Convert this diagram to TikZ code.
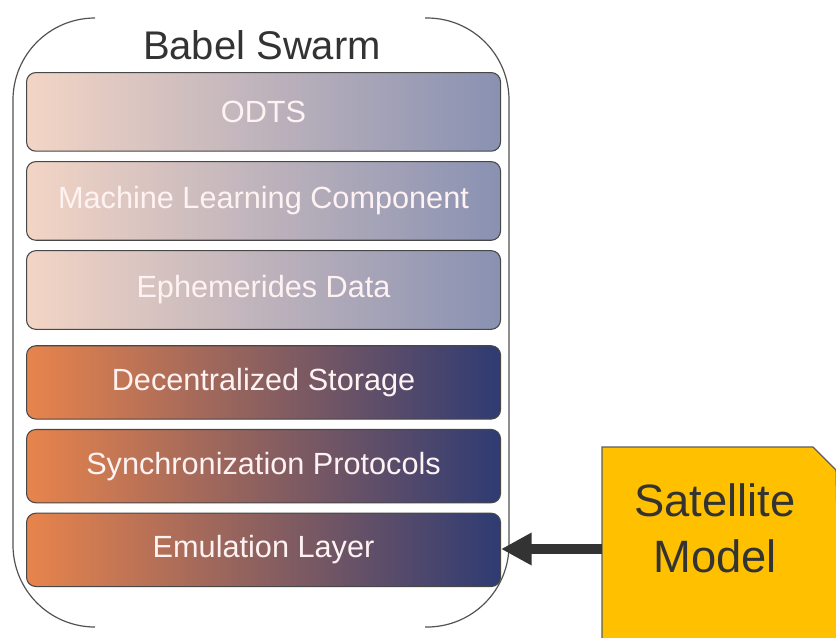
\documentclass[tikz,border=0pt]{standalone}
\usepackage{fontspec}
\setmainfont{Liberation Sans}
\usetikzlibrary{positioning,arrows.meta}

\definecolor{peach}{HTML}{F3D5C5}
\definecolor{rosy}{HTML}{C7A2AC}
\definecolor{slate}{HTML}{8991B2}
\definecolor{burnt}{HTML}{E8844C}
\definecolor{plum}{HTML}{96566A}
\definecolor{navy}{HTML}{2E3B73}
\definecolor{gold}{HTML}{FFC000}
\definecolor{ink}{HTML}{333333}

\begin{document}
\begin{tikzpicture}[x=0.75pt, y=-0.75pt, node distance=7pt, >=Triangle,
    layer/.style={draw=ink!90, line width=0.8pt, rectangle, rounded corners=7pt,
      minimum width=355.5pt, text=white!95!red, font=\fontsize{23}{27}\selectfont},
    lightlayer/.style={layer, minimum height=59pt, left color=peach, middle color=rosy, right color=slate},
    darklayer/.style={layer, minimum height=55pt, left color=burnt, middle color=plum, right color=navy}]

  \clip (0,0) rectangle (836,637);

  % Contenedor (solo las esquinas redondeadas y los lados)
  \draw[ink!85, line width=0.9pt, rounded corners=61.5pt] (95,18) -- (13,18) -- (13,627) -- (95,627);
  \draw[ink!85, line width=0.9pt, rounded corners=61.5pt] (425,18) -- (509,18) -- (509,627) -- (425,627);
  \node[text=ink, font=\fontsize{30}{34}\selectfont] (title) at (262,45) {Babel Swarm};

  % Capas (de arriba hacia abajo)
  \node[lightlayer, anchor=north west] (odts) at (26,72) {ODTS};
  \node[lightlayer, below=of odts] (ml) {Machine Learning Component};
  \node[lightlayer, below=of ml] (eph) {Ephemerides Data};
  \node[darklayer, below=11.5pt of eph] (storage) {Decentralized Storage};
  \node[darklayer, below=of storage] (sync) {Synchronization Protocols};
  \node[darklayer, below=of sync] (emu) {Emulation Layer};

  % Modelo del satelite (esquina cortada, sale del borde)
  \draw[ink!80, line width=0.8pt, fill=gold] (602,447) -- (813,447) -- (836,470) -- (840,700) -- (602,700) -- cycle;
  \node[text=ink, align=center, font=\fontsize{34}{42}\selectfont] (sat) at (715,528) {Satellite\\Model};
  \coordinate (satedge) at (602,549);

  % Conexion
  \draw[->, ink, line width=7.5pt, arrows={-Triangle[length=23pt, width=23pt]}] (satedge) -- (emu.east |- satedge);

\end{tikzpicture}
\end{document}
